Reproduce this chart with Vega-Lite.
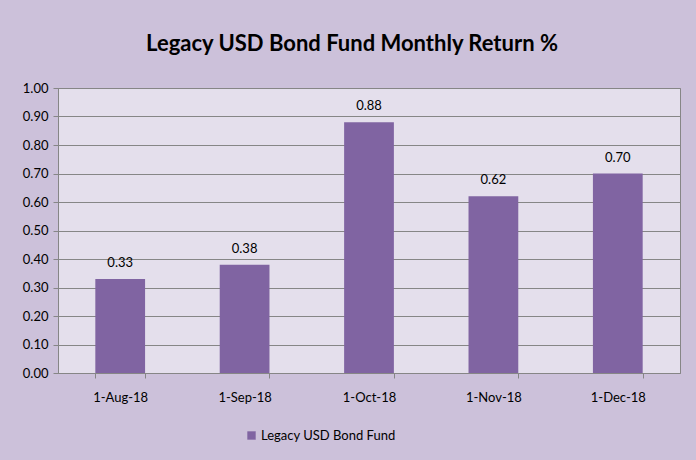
{
  "$schema": "https://vega.github.io/schema/vega-lite/v6.json",
  "width": 622,
  "height": 285,
  "autosize": {"type": "none"},
  "padding": {"left": 58, "top": 88, "right": 16, "bottom": 87},
  "background": "#ccc1da",
  "title": {
    "text": "Legacy USD Bond Fund Monthly Return %",
    "font": "Lato",
    "fontSize": 22,
    "fontWeight": "bold",
    "color": "#000000",
    "anchor": "middle",
    "dx": -17,
    "offset": 26
  },
  "config": {
    "font": "Lato",
    "view": {"fill": "#e4dfec", "stroke": "#868686", "strokeWidth": 1}
  },
  "data": {
    "values": [
      {"date": "1-Aug-18", "value": 0.33, "series": "Legacy USD Bond Fund"},
      {"date": "1-Sep-18", "value": 0.38, "series": "Legacy USD Bond Fund"},
      {"date": "1-Oct-18", "value": 0.88, "series": "Legacy USD Bond Fund"},
      {"date": "1-Nov-18", "value": 0.62, "series": "Legacy USD Bond Fund"},
      {"date": "1-Dec-18", "value": 0.70, "series": "Legacy USD Bond Fund"}
    ]
  },
  "encoding": {
    "x": {
      "field": "date",
      "type": "nominal",
      "sort": null,
      "scale": {"paddingInner": 0.6, "paddingOuter": 0.3},
      "axis": {
        "title": null,
        "labelAngle": 0,
        "labelFontSize": 13,
        "labelColor": "#000000",
        "labelPadding": 13,
        "domainColor": "#868686",
        "tickColor": "#868686",
        "tickSize": 5,
        "tickBand": "extent"
      }
    },
    "y": {
      "field": "value",
      "type": "quantitative",
      "scale": {"domain": [0, 1]},
      "axis": {
        "title": null,
        "values": [0, 0.1, 0.2, 0.3, 0.4, 0.5, 0.6, 0.7, 0.8, 0.9, 1.0],
        "format": ".2f",
        "labelFontSize": 13,
        "labelColor": "#000000",
        "labelPadding": 5,
        "domainColor": "#868686",
        "tickColor": "#868686",
        "tickSize": 5,
        "gridColor": "#868686",
        "gridWidth": 1
      }
    }
  },
  "layer": [
    {
      "mark": {"type": "bar"},
      "encoding": {
        "color": {
          "field": "series",
          "type": "nominal",
          "scale": {"range": ["#8064a2"]},
          "legend": {
            "title": null,
            "orient": "none",
            "legendX": 187,
            "legendY": 341,
            "symbolType": "square",
            "symbolSize": 70,
            "symbolStrokeWidth": 0,
            "labelFontSize": 13,
            "labelColor": "#000000",
            "labelOffset": 3
          }
        }
      }
    },
    {
      "mark": {"type": "text", "dy": -16, "fontSize": 13, "color": "#000000"},
      "encoding": {
        "text": {"field": "value", "type": "quantitative", "format": ".2f"}
      }
    }
  ]
}
